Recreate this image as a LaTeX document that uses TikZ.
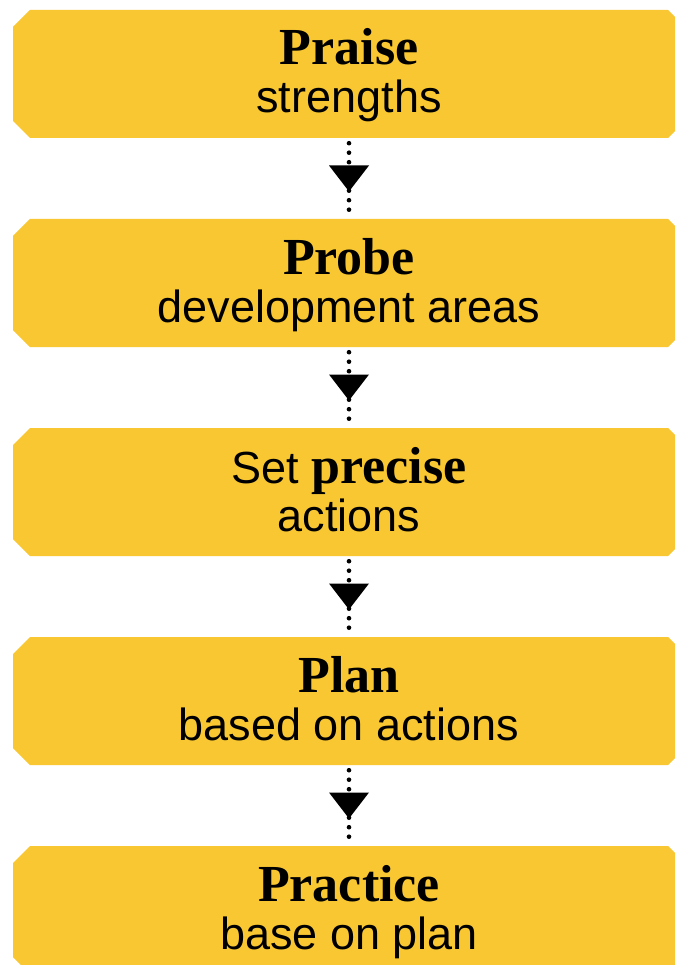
\documentclass[tikz,border=0pt]{standalone}
\usepackage{fontspec}
\setmainfont{Liberation Sans}
\newfontfamily\ttlfont{Liberation Serif}
\usetikzlibrary{calc}
\definecolor{boxyellow}{HTML}{F8C732}
\tikzset{
  stepbox/.style={minimum width=672pt, minimum height=128pt, inner sep=0pt, draw=none,
    path picture={\fill[boxyellow]
      ([xshift=17pt]path picture bounding box.north west) --
      ([xshift=-17pt]path picture bounding box.north east) --
      ([yshift=-17pt]path picture bounding box.north east) --
      ([yshift=17pt]path picture bounding box.south east) --
      ([xshift=-17pt]path picture bounding box.south east) --
      ([xshift=17pt]path picture bounding box.south west) --
      ([yshift=17pt]path picture bounding box.south west) --
      ([yshift=-17pt]path picture bounding box.north west) -- cycle;}},
  ttl/.style={anchor=base, inner sep=0pt, font=\fontsize{52}{60}\selectfont},
  sub/.style={anchor=base, inner sep=0pt, font=\fontsize{45}{52}\selectfont},
  dotline/.style={line width=4.6pt, line cap=round, dash pattern=on 0pt off 9.5pt},
  arrowtri/.style={fill=black}
}
\newcommand{\ttlb}[1]{{\ttlfont\bfseries #1}}
\begin{document}
\begin{tikzpicture}[x=1pt,y=-1pt]
\clip (0,0) rectangle (675,965);
\fill[white] (0,0) rectangle (675,965);
% boxes
\node[stepbox] (b1) at (349,74) {};
\node[stepbox] (b2) at (349,283) {};
\node[stepbox] (b3) at (349,492) {};
\node[stepbox] (b4) at (349,701) {};
\node[stepbox] (b5) at (349,910) {};
% texts
\node[ttl] (t1) at (349,65) {\ttlb{Praise}};
\node[sub] (s1) at (349,113) {strengths};
\node[ttl] (t2) at (349,274) {\ttlb{Probe}};
\node[sub] (s2) at (349,322) {development areas};
\node[ttl] (t3) at (349,483) {\fontsize{45}{52}\selectfont Set \fontsize{52}{60}\selectfont\ttlb{precise}};
\node[sub] (s3) at (349,531) {actions};
\node[ttl] (t4) at (349,692) {\ttlb{Plan}};
\node[sub] (s4) at (349,740) {based on actions};
\node[ttl] (t5) at (349,901) {\ttlb{Practice}};
\node[sub] (s5) at (349,949) {base on plan};
% connectors
\foreach \a/\b in {b1/b2,b2/b3,b3/b4,b4/b5}{
  \draw[dotline] ([yshift=-5pt]\a.south) -- (\b.north);
  \coordinate (m) at ($(\a.south)!0.5!(\b.north)$);
  \fill[arrowtri] ([shift={(-20,-13)}]m) -- ([shift={(20,-13)}]m) -- ([shift={(0,13)}]m) -- cycle;
}
\end{tikzpicture}
\end{document}
